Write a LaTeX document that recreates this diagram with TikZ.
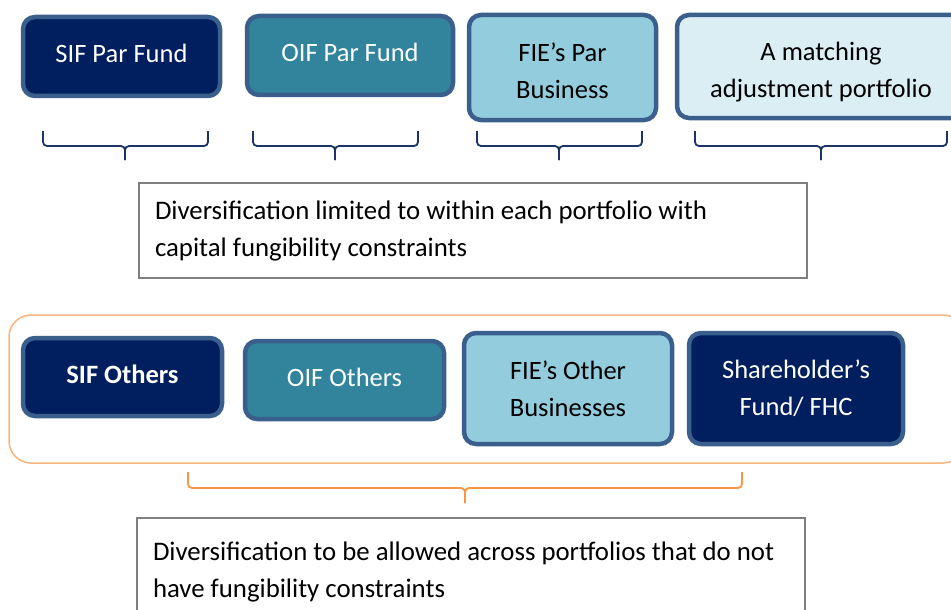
\documentclass[tikz,border=0pt]{standalone}
\usepackage{fontspec}
\setmainfont{Carlito}
\usepackage{tikz}

\definecolor{sifnavy}{HTML}{011F5E}
\definecolor{oifteal}{HTML}{31849B}
\definecolor{fieblue}{HTML}{93CDDD}
\definecolor{mapale}{HTML}{DBEEF4}
\definecolor{edgeblue}{HTML}{3B5F8C}
\definecolor{notegray}{HTML}{7F7F7F}
\definecolor{bracenavy}{HTML}{1B3467}
\definecolor{ringorange}{HTML}{F9B47C}
\definecolor{braceorange}{HTML}{F79646}

\begin{document}
\begin{tikzpicture}[x=1pt,y=-1pt,font=\fontsize{26.5}{37}\selectfont]
\tikzstyle{fund}=[draw=edgeblue,line width=4.5,rounded corners=12,align=center,inner sep=0]
\tikzstyle{note}=[draw=notegray,line width=2,align=flush left,inner sep=0,text width=636,minimum width=668,font=\fontsize{26.8}{37}\selectfont]
\tikzstyle{brace}=[line width=1.8,rounded corners=4]
\useasboundingbox (0,0) rectangle (951,610);

% ring-fenced par portfolios
\node[fund,fill=sifnavy,text=white,minimum width=197,minimum height=79] (SIFpar) at (121.5,56.5) {SIF Par Fund\rule[-6pt]{0pt}{1pt}};
\node[fund,fill=oifteal,text=white,minimum width=206,minimum height=79] (OIFpar) at (350,55.5) {OIF Par Fund\rule[-6pt]{0pt}{1pt}};
\node[fund,fill=fieblue,minimum width=187,minimum height=105] (FIEpar) at (562.5,67.5) {\rule{0pt}{25pt}FIE's Par\\Business};
\node[fund,fill=mapale,minimum width=288,minimum height=103] (MAport) at (821,66.5) {\rule{0pt}{29pt}A matching\\adjustment portfolio};

\foreach \l/\m/\r in {43/125/208,253/335/418,477/559/642,695/821/947}{
\draw[brace,bracenavy] (\l,131) |- (\m,146) -- (\m,160);
\draw[brace,bracenavy] (\r,131) |- (\m,146) -- (\m,160);
}

\node[note,minimum height=95] (limited) at (473,230.5) {Diversification limited to within each portfolio with\\capital fungibility constraints};

% other portfolios, grouped together
\node[draw=ringorange,line width=1.5,rounded corners=22,minimum width=956,minimum height=148] (others) at (487,389) {};
\node[fund,fill=sifnavy,text=white,minimum width=199,minimum height=78] (SIFoth) at (122.5,377) {\textbf{SIF Others}\rule[-5pt]{0pt}{1pt}};
\node[fund,fill=oifteal,text=white,minimum width=199,minimum height=78] (OIFoth) at (344.5,380) {OIF Others\rule[-5pt]{0pt}{1pt}};
\node[fund,fill=fieblue,minimum width=208,minimum height=111] (FIEoth) at (568,388.5) {FIE's Other\\Businesses};
\node[fund,fill=sifnavy,text=white,minimum width=214,minimum height=111] (SHfund) at (796,388.5) {Shareholder's\\Fund/ FHC};

\draw[brace,braceorange] (188,472) |- (465,488) -- (465,503);
\draw[brace,braceorange] (742,472) |- (465,488) -- (465,503);

\node[note,minimum height=108] (allowed) at (471,572) {Diversification to be allowed across portfolios that do not\\have fungibility constraints};
\end{tikzpicture}
\end{document}
